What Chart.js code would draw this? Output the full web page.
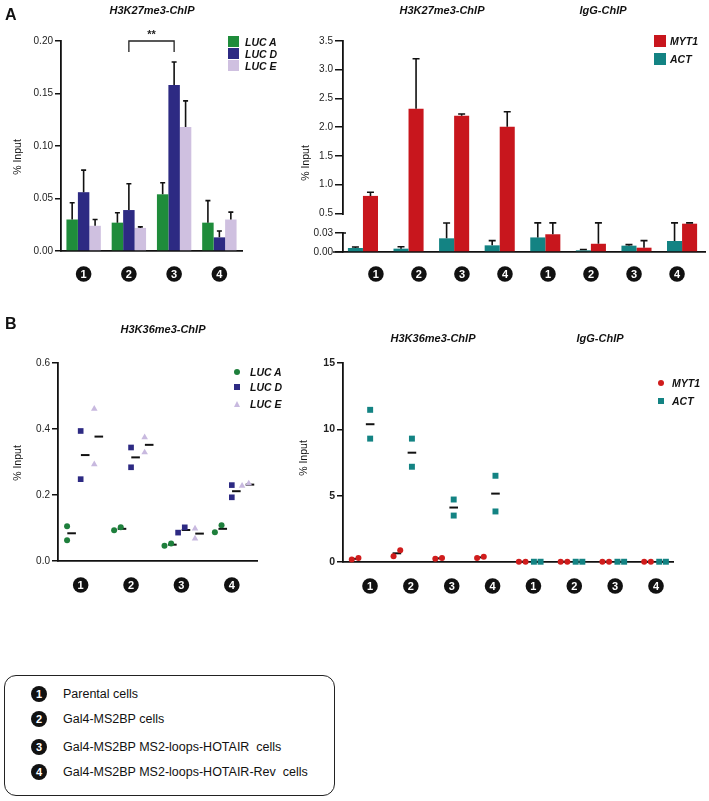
<!DOCTYPE html>
<html>
<head>
<meta charset="utf-8">
<script src="https://cdn.jsdelivr.net/npm/chart.js@4.4.1/dist/chart.umd.min.js"></script>
<style>
body { margin:0; background:#fff; width:709px; height:801px; position:relative; overflow:hidden;
       font-family:"Liberation Sans", Arial, sans-serif; color:#111; }
canvas { position:absolute; }
.title { position:absolute; font-weight:bold; font-style:italic; font-size:11px; white-space:nowrap; transform:translateX(-50%); }
.ytitle { position:absolute; font-size:10.5px; white-space:nowrap; transform:translate(-50%,-50%) rotate(-90deg); }
.panel { position:absolute; font-weight:bold; font-size:16px; }
.leg { position:absolute; font-weight:bold; font-style:italic; font-size:10.5px; white-space:nowrap; line-height:14px; }
.sw { position:absolute; width:11px; height:11px; }
.dot { position:absolute; width:6px; height:6px; border-radius:50%; }
.sq { position:absolute; width:6px; height:6px; }
.tri { position:absolute; width:0; height:0; border-left:3.5px solid transparent; border-right:3.5px solid transparent; border-bottom:6px solid #c8b9df; }
#key { position:absolute; left:4px; top:675px; width:329px; height:119px; border:1.5px solid #222; border-radius:12px; }
.kc { position:absolute; width:16px; height:16px; border-radius:50%; background:#111; color:#fff; font-weight:bold; font-size:11px; line-height:16px; text-align:center; }
.kt { position:absolute; font-size:12.5px; white-space:nowrap; line-height:16px; }
</style>
</head>
<body>
<canvas id="aLeft" width="300" height="300" style="left:0;top:0"></canvas>
<canvas id="aRight" width="419" height="300" style="left:290px;top:0"></canvas>
<canvas id="bLeft" width="300" height="300" style="left:0;top:310px"></canvas>
<canvas id="bRight" width="419" height="300" style="left:290px;top:310px"></canvas>

<div class="panel" style="left:5px;top:6px">A</div>
<div class="panel" style="left:5px;top:315px">B</div>

<div class="title" style="left:152px;top:4px">H3K27me3-ChIP</div>
<div class="title" style="left:442px;top:4px">H3K27me3-ChIP</div>
<div class="title" style="left:603px;top:4px">IgG-ChIP</div>
<div class="title" style="left:163px;top:323px">H3K36me3-ChIP</div>
<div class="title" style="left:433px;top:332px">H3K36me3-ChIP</div>
<div class="title" style="left:600px;top:332px">IgG-ChIP</div>

<div class="ytitle" style="left:17px;top:157px">% Input</div>
<div class="ytitle" style="left:305px;top:163px">% Input</div>
<div class="ytitle" style="left:17px;top:463px">% Input</div>
<div class="ytitle" style="left:303px;top:458px">% Input</div>

<!-- legend A left -->
<div class="sw" style="left:228px;top:36px;background:#1f8c3b"></div>
<div class="sw" style="left:228px;top:48px;background:#2d2a83"></div>
<div class="sw" style="left:228px;top:60px;background:#cfc0e0"></div>
<div class="leg" style="left:245px;top:35px">LUC A</div>
<div class="leg" style="left:245px;top:47px">LUC D</div>
<div class="leg" style="left:245px;top:59px">LUC E</div>

<!-- legend A right -->
<div class="sw" style="left:654px;top:35px;width:12px;height:12px;background:#c8161d"></div>
<div class="sw" style="left:654px;top:53px;width:12px;height:12px;background:#138383"></div>
<div class="leg" style="left:670px;top:34px">MYT1</div>
<div class="leg" style="left:670px;top:52px">ACT</div>

<!-- legend B left -->
<div class="dot" style="left:234px;top:369px;background:#1e7f3c"></div>
<div class="sq" style="left:234px;top:384px;background:#2d2a83"></div>
<div class="tri" style="left:233.5px;top:401px"></div>
<div class="leg" style="left:250px;top:365px">LUC A</div>
<div class="leg" style="left:250px;top:380px">LUC D</div>
<div class="leg" style="left:250px;top:397px">LUC E</div>

<!-- legend B right -->
<div class="dot" style="left:658px;top:380px;background:#d01c1c"></div>
<div class="sq" style="left:658px;top:398px;background:#138383"></div>
<div class="leg" style="left:672px;top:376px">MYT1</div>
<div class="leg" style="left:672px;top:394px">ACT</div>

<div id="key">
  <div class="kc" style="left:26px;top:10px">1</div><div class="kt" style="left:58px;top:10px">Parental cells</div>
  <div class="kc" style="left:26px;top:35px">2</div><div class="kt" style="left:58px;top:35px">Gal4-MS2BP cells</div>
  <div class="kc" style="left:26px;top:63px">3</div><div class="kt" style="left:58px;top:63px">Gal4-MS2BP MS2-loops-HOTAIR&nbsp; cells</div>
  <div class="kc" style="left:26px;top:88px">4</div><div class="kt" style="left:58px;top:88px">Gal4-MS2BP MS2-loops-HOTAIR-Rev&nbsp; cells</div>
</div>

<script>
// groups on the x axis
const groups4 = ['1', '2', '3', '4'];
const groups8 = ['1', '2', '3', '4', '1', '2', '3', '4'];

// A left: H3K27me3 ChIP on LUC reporters (mean, top of error bar)
const lucA_A = [0.030, 0.027, 0.054, 0.027];
const lucA_Aerr = [0.046, 0.0365, 0.065, 0.048];
const lucD_A = [0.056, 0.039, 0.158, 0.013];
const lucD_Aerr = [0.077, 0.064, 0.180, 0.019];
const lucE_A = [0.024, 0.022, 0.118, 0.030];
const lucE_Aerr = [0.030, 0.023, 0.143, 0.037];
const yTicksAL = [0, 0.05, 0.10, 0.15, 0.20];

// A right: H3K27me3 (1-4) then IgG (1-4)
const myt1_A = [0.806, 2.32, 2.20, 2.01, 0.028, 0.013, 0.0068, 0.0447];
const myt1_Aerr = [0.87, 3.19, 2.23, 2.27, 0.046, 0.046, 0.018, 0.046];
const act_A = [0.0063, 0.0053, 0.0216, 0.0105, 0.023, 0.0026, 0.010, 0.0174];
const act_Aerr = [0.0079, 0.0084, 0.0458, 0.018, 0.046, 0.004, 0.0116, 0.046];
const yTicksAR = [0, 0.03, 0.5, 1.0, 1.5, 2.0, 2.5, 3.0, 3.5];
const yTickLabelsAR = ['0.00', '0.03', '0.5', '1.0', '1.5', '2.0', '2.5', '3.0', '3.5'];
const yAxisGapAR = [0.03, 0.5];

// B left: H3K36me3 ChIP, two replicates per group
const lucA_B = [[0.105, 0.063], [0.093, 0.102], [0.046, 0.053], [0.087, 0.108]];
const lucD_B = [[0.394, 0.248], [0.344, 0.284], [0.086, 0.102], [0.230, 0.193]];
const lucE_B = [[0.461, 0.293], [0.375, 0.329], [0.098, 0.068], [0.228, 0.235]];

// B right: H3K36me3 (1-4) then IgG (1-4)
const myt1_B = [[0.18, 0.30], [0.43, 0.88], [0.25, 0.30], [0.30, 0.40],
                [0.02, 0.02], [0.02, 0.02], [0.02, 0.02], [0.02, 0.02]];
const act_B = [[11.47, 9.30], [9.30, 7.18], [4.71, 3.50], [6.50, 3.81],
               [0.02, 0.02], [0.02, 0.02], [0.02, 0.02], [0.02, 0.02]];

Chart.defaults.font.family = '"Liberation Sans", Arial, sans-serif';
Chart.defaults.font.size = 10;
Chart.defaults.color = '#222';

// y scale with a break between 0.048 and 0.5
const brk = [[0, 0], [0.048, 0.1441], [0.5, 0.1825], [3.5, 1]];
function brokenFrac(v) {
  for (let i = 1; i < brk.length; i++) {
    if (v <= brk[i][0] || i === brk.length - 1) {
      const [v0, f0] = brk[i - 1], [v1, f1] = brk[i];
      return f0 + (v - v0) / (v1 - v0) * (f1 - f0);
    }
  }
}
function brokenInv(f) {
  for (let i = 1; i < brk.length; i++) {
    if (f <= brk[i][1] || i === brk.length - 1) {
      const [v0, f0] = brk[i - 1], [v1, f1] = brk[i];
      return v0 + (f - f0) / (f1 - f0) * (v1 - v0);
    }
  }
}
class BrokenScale extends Chart.LinearScale {
  getPixelForValue(v) { return v === null ? NaN : this.getPixelForDecimal(brokenFrac(v)); }
  getValueForPixel(p) { return brokenInv(this.getDecimalForPixel(p)); }
}
BrokenScale.id = 'broken';
BrokenScale.defaults = Chart.LinearScale.defaults;
Chart.register(BrokenScale);

const errorBars = {
  id: 'errorBars',
  afterDatasetsDraw(chart, args, opts) {
    const ctx = chart.ctx, ys = chart.scales.y;
    chart.data.datasets.forEach((ds, i) => {
      if (!ds.errorBars) return;
      chart.getDatasetMeta(i).data.forEach((bar, j) => {
        const yTop = ys.getPixelForValue(ds.errorBars[j]);
        ctx.save();
        ctx.strokeStyle = '#111';
        ctx.lineWidth = 1.6;
        ctx.beginPath();
        ctx.moveTo(bar.x, bar.y);
        ctx.lineTo(bar.x, yTop);
        ctx.moveTo(bar.x - opts.cap, yTop);
        ctx.lineTo(bar.x + opts.cap, yTop);
        ctx.stroke();
        ctx.restore();
      });
    });
  }
};

const circledTicks = {
  id: 'circledTicks',
  afterDraw(chart, args, opts) {
    const sc = chart.scales[opts.scaleId];
    const ctx = chart.ctx;
    const y = chart.chartArea.bottom + opts.offset;
    opts.labels.forEach((lab, i) => {
      const x = sc.getPixelForValue(opts.values[i]);
      ctx.save();
      ctx.beginPath();
      ctx.arc(x, y, 7.8, 0, Math.PI * 2);
      ctx.fillStyle = '#111';
      ctx.fill();
      ctx.fillStyle = '#fff';
      ctx.font = 'bold 11px "Liberation Sans", Arial';
      ctx.textAlign = 'center';
      ctx.textBaseline = 'middle';
      ctx.fillText(lab, x, y + 0.5);
      ctx.restore();
    });
  }
};

const sigBracket = {
  id: 'sigBracket',
  afterDraw(chart, args, o) {
    const ctx = chart.ctx, xs = chart.scales.x, ys = chart.scales.y;
    const x1 = xs.getPixelForValue(o.from), x2 = xs.getPixelForValue(o.to);
    const yt = ys.getPixelForValue(o.top), yb = ys.getPixelForValue(o.tip);
    ctx.save();
    ctx.strokeStyle = '#222';
    ctx.lineWidth = 1.3;
    ctx.beginPath();
    ctx.moveTo(x1, yb); ctx.lineTo(x1, yt); ctx.lineTo(x2, yt); ctx.lineTo(x2, yb);
    ctx.stroke();
    ctx.fillStyle = '#222';
    ctx.font = 'bold 11px "Liberation Sans", Arial';
    ctx.textAlign = 'center';
    ctx.textBaseline = 'bottom';
    ctx.fillText(o.label, (x1 + x2) / 2, yt - 1);
    ctx.restore();
  }
};

// cut the y axis line between the two pieces of the broken scale
const axisGap = {
  id: 'axisGap',
  afterDraw(chart) {
    const ctx = chart.ctx, ys = chart.scales.y, x = ys.right;
    const yLo = ys.getPixelForValue(yAxisGapAR[0]) - 1;
    const yHi = ys.getPixelForValue(yAxisGapAR[1]) + 1.5;
    ctx.save();
    ctx.fillStyle = '#fff';
    ctx.fillRect(x - 2, yHi, 4, yLo - yHi);
    ctx.strokeStyle = '#111';
    ctx.lineWidth = 1.5;
    ctx.beginPath();
    ctx.moveTo(x, yLo + 1);
    ctx.lineTo(x + 3, yLo + 1);
    ctx.moveTo(x - 10, ys.getPixelForValue(0));
    ctx.lineTo(x, ys.getPixelForValue(0));
    ctx.stroke();
    ctx.restore();
  }
};

function yAxis(width, extra) {
  return Object.assign({
    afterFit: (axis) => { axis.width = width; },
    grid: { display: true, drawOnChartArea: false, drawTicks: true, tickLength: 6, color: '#111', lineWidth: 1.5 },
    border: { display: true, color: '#111', width: 1.8 },
    ticks: { padding: 2, color: '#222', font: { size: 10 } }
  }, extra);
}
function xAxis(extra) {
  return Object.assign({
    afterFit: (axis) => { axis.height = 0; },
    grid: { display: false, offset: false },
    border: { display: true, color: '#111', width: 1.8 },
    ticks: { display: false }
  }, extra);
}

// ---- A left
new Chart(document.getElementById('aLeft'), {
  type: 'bar',
  data: {
    labels: groups4,
    datasets: [
      { label: 'LUC A', data: lucA_A, errorBars: lucA_Aerr, backgroundColor: '#1f8c3b' },
      { label: 'LUC D', data: lucD_A, errorBars: lucD_Aerr, backgroundColor: '#2d2a83' },
      { label: 'LUC E', data: lucE_A, errorBars: lucE_Aerr, backgroundColor: '#cfc0e0' }
    ]
  },
  options: {
    responsive: false, animation: false, events: [],
    layout: { padding: { left: 0, top: 41, right: 58, bottom: 49 } },
    datasets: { bar: { categoryPercentage: 0.76, barPercentage: 1.0 } },
    scales: {
      x: xAxis({ type: 'category', offset: true }),
      y: yAxis(61, {
        min: 0, max: 0.2,
        afterBuildTicks: (axis) => { axis.ticks = yTicksAL.map(v => ({ value: v })); },
        ticks: { padding: 2, color: '#222', font: { size: 10 }, callback: (v) => v.toFixed(2) }
      })
    },
    plugins: {
      legend: { display: false }, tooltip: { enabled: false },
      errorBars: { cap: 2.5 },
      circledTicks: { scaleId: 'x', labels: groups4, values: [0, 1, 2, 3], offset: 23 },
      sigBracket: { from: 1, to: 2, top: 0.2, tip: 0.1895, label: '**' }
    }
  },
  plugins: [errorBars, circledTicks, sigBracket]
});

// ---- A right
const xsAR = groups8.map((g, i) => i + 1);
new Chart(document.getElementById('aRight'), {
  type: 'bar',
  data: {
    datasets: [
      { label: 'ACT', data: act_A.map((v, i) => ({ x: xsAR[i], y: v })), errorBars: act_Aerr, backgroundColor: '#138383' },
      { label: 'MYT1', data: myt1_A.map((v, i) => ({ x: xsAR[i], y: v })), errorBars: myt1_Aerr, backgroundColor: '#c8161d' }
    ]
  },
  options: {
    responsive: false, animation: false, events: [],
    layout: { padding: { left: 0, top: 41, right: 4, bottom: 48 } },
    datasets: { bar: { categoryPercentage: 0.66, barPercentage: 1.0 } },
    scales: {
      x: xAxis({ type: 'linear', offset: false, min: 0.5625, max: 8.503 }),
      xc: { type: 'linear', display: false, offset: false, grid: { offset: false }, min: 0.235, max: 8.65 },
      y: yAxis(53, {
        type: 'broken', min: 0, max: 3.5,
        grid: { display: true, drawOnChartArea: false, drawTicks: true, tickLength: 8, color: '#111', lineWidth: 1.5 },
        afterBuildTicks: (axis) => { axis.ticks = yTicksAR.map(v => ({ value: v })); },
        ticks: { padding: 2, color: '#222', font: { size: 10 }, callback: (v, i) => yTickLabelsAR[i] }
      })
    },
    plugins: {
      legend: { display: false }, tooltip: { enabled: false },
      errorBars: { cap: 3.5 },
      circledTicks: { scaleId: 'xc', labels: groups8, values: xsAR, offset: 22 }
    }
  },
  plugins: [errorBars, circledTicks, axisGap]
});

// scatter helpers: replicates side by side only when they would overlap
function repPoints(reps, offset, spread, close) {
  const pts = [];
  reps.forEach((pair, g) => {
    const s = pair.slice().sort((a, b) => a - b);
    const near = Math.abs(s[1] - s[0]) < close;
    s.forEach((v, k) => pts.push({ x: g + 1 + offset + (near ? (k ? spread : -spread) : 0), y: v }));
  });
  return pts;
}
function repMeans(reps, offset) {
  return reps.map((pair, g) => ({ x: g + 1 + offset, y: pair.reduce((a, b) => a + b, 0) / pair.length }));
}
const meanStyle = { pointStyle: 'line', pointRadius: 4.3, pointBorderWidth: 2, pointBorderColor: '#111', clip: false };

// ---- B left
new Chart(document.getElementById('bLeft'), {
  type: 'scatter',
  data: {
    datasets: [
      { label: 'LUC A', data: repPoints(lucA_B, -0.27, 0.066, 0.027), pointStyle: 'circle', pointRadius: 3, backgroundColor: '#1e7f3c', borderWidth: 0, clip: false },
      { label: 'LUC D', data: repPoints(lucD_B, 0, 0.066, 0.027), pointStyle: 'rect', pointRadius: 4, backgroundColor: '#2d2a83', borderWidth: 0, clip: false },
      { label: 'LUC E', data: repPoints(lucE_B, 0.27, 0.066, 0.027), pointStyle: 'triangle', pointRadius: 3.8, backgroundColor: '#c8b9df', borderWidth: 0, clip: false },
      Object.assign({ label: 'mean A', data: repMeans(lucA_B, -0.18) }, meanStyle),
      Object.assign({ label: 'mean D', data: repMeans(lucD_B, 0.09) }, meanStyle),
      Object.assign({ label: 'mean E', data: repMeans(lucE_B, 0.36) }, meanStyle)
    ]
  },
  options: {
    responsive: false, animation: false, events: [],
    layout: { padding: { left: 0, top: 53, right: 43, bottom: 49 } },
    scales: {
      x: xAxis({ type: 'linear', min: 0.55, max: 4.5 }),
      y: yAxis(58, {
        min: 0, max: 0.6,
        ticks: { stepSize: 0.2, padding: 2, color: '#222', font: { size: 10 }, callback: (v) => v.toFixed(1) }
      })
    },
    plugins: {
      legend: { display: false }, tooltip: { enabled: false },
      circledTicks: { scaleId: 'x', labels: groups4, values: [1, 2, 3, 4], offset: 24 }
    }
  },
  plugins: [circledTicks]
});

// ---- B right
new Chart(document.getElementById('bRight'), {
  type: 'scatter',
  data: {
    datasets: [
      { label: 'MYT1', data: repPoints(myt1_B, -0.18, 0.08, 0.7), pointStyle: 'circle', pointRadius: 3, backgroundColor: '#d01c1c', borderWidth: 0, clip: false },
      { label: 'ACT', data: repPoints(act_B, 0.18, 0.08, 0.7), pointStyle: 'rect', pointRadius: 4.2, backgroundColor: '#138383', borderWidth: 0, clip: false },
      Object.assign({ label: 'mean MYT1', data: repMeans(myt1_B, -0.18) }, meanStyle),
      Object.assign({ label: 'mean ACT', data: repMeans(act_B, 0.18) }, meanStyle)
    ]
  },
  options: {
    responsive: false, animation: false, events: [],
    layout: { padding: { left: 0, top: 53, right: 36, bottom: 48 } },
    scales: {
      x: xAxis({ type: 'linear', min: 0.53, max: 8.43 }),
      xc: { type: 'linear', display: false, min: 0.339, max: 8.416 },
      y: yAxis(53, {
        min: 0, max: 15,
        ticks: { stepSize: 5, padding: 2, color: '#222', font: { size: 10.5, weight: 'bold' } }
      })
    },
    plugins: {
      legend: { display: false }, tooltip: { enabled: false },
      circledTicks: { scaleId: 'xc', labels: groups8, values: groups8.map((g, i) => i + 1), offset: 24 }
    }
  },
  plugins: [circledTicks]
});
</script>
</body>
</html>
